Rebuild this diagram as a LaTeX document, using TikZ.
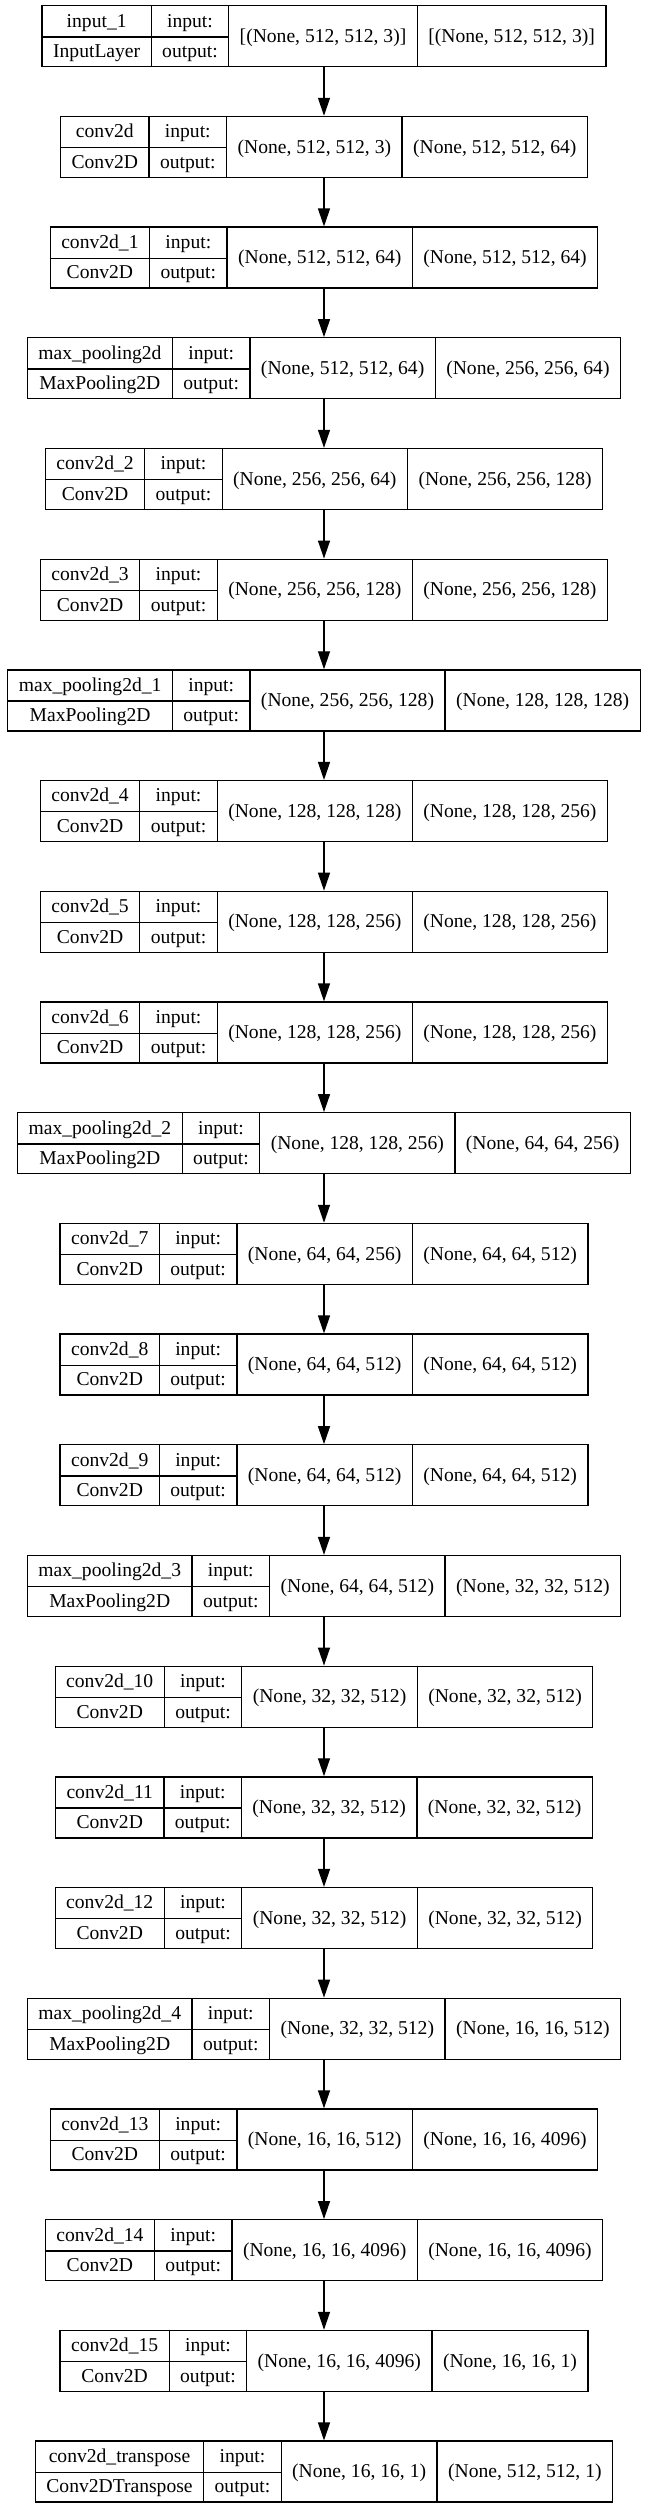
\documentclass[tikz,border=0pt]{standalone}
\usepackage{fontspec}
\setmainfont{Liberation Serif}
\usepackage{multirow}
\usetikzlibrary{arrows.meta}
\setlength{\tabcolsep}{11pt}
\setlength{\arrayrulewidth}{1.3pt}
\newcommand{\layer}[4]{\begin{tabular}{c|c|c|c}
#1 & input: & \multirow{2}{*}{#3} & \multirow{2}{*}{#4}\\ \cline{1-2}
#2 & output: & & \\
\end{tabular}}

\begin{document}
\begin{tikzpicture}[x=1pt,y=1pt,node distance=110.7pt]
\tikzstyle{box}=[rectangle, draw=black, line width=1.3pt, inner sep=0pt, fill=white, font=\fontsize{19.6}{30.5}\selectfont]
\tikzstyle{arrow}=[line width=1.3pt,-{Triangle[length=18pt,width=12pt]}]
\useasboundingbox (0,0) rectangle (645,-2508);
\node[box] (in1) at (324,-36.2) {\layer{input\_1}{InputLayer}{[(None, 512, 512, 3)]}{[(None, 512, 512, 3)]}};
\node[box, below of=in1] (cv0) {\layer{conv2d}{Conv2D}{(None, 512, 512, 3)}{(None, 512, 512, 64)}};
\node[box, below of=cv0] (cv1) {\layer{conv2d\_1}{Conv2D}{(None, 512, 512, 64)}{(None, 512, 512, 64)}};
\node[box, below of=cv1] (mp0) {\layer{max\_pooling2d}{MaxPooling2D}{(None, 512, 512, 64)}{(None, 256, 256, 64)}};
\node[box, below of=mp0] (cv2) {\layer{conv2d\_2}{Conv2D}{(None, 256, 256, 64)}{(None, 256, 256, 128)}};
\node[box, below of=cv2] (cv3) {\layer{conv2d\_3}{Conv2D}{(None, 256, 256, 128)}{(None, 256, 256, 128)}};
\node[box, below of=cv3] (mp1) {\layer{max\_pooling2d\_1}{MaxPooling2D}{(None, 256, 256, 128)}{(None, 128, 128, 128)}};
\node[box, below of=mp1] (cv4) {\layer{conv2d\_4}{Conv2D}{(None, 128, 128, 128)}{(None, 128, 128, 256)}};
\node[box, below of=cv4] (cv5) {\layer{conv2d\_5}{Conv2D}{(None, 128, 128, 256)}{(None, 128, 128, 256)}};
\node[box, below of=cv5] (cv6) {\layer{conv2d\_6}{Conv2D}{(None, 128, 128, 256)}{(None, 128, 128, 256)}};
\node[box, below of=cv6] (mp2) {\layer{max\_pooling2d\_2}{MaxPooling2D}{(None, 128, 128, 256)}{(None, 64, 64, 256)}};
\node[box, below of=mp2] (cv7) {\layer{conv2d\_7}{Conv2D}{(None, 64, 64, 256)}{(None, 64, 64, 512)}};
\node[box, below of=cv7] (cv8) {\layer{conv2d\_8}{Conv2D}{(None, 64, 64, 512)}{(None, 64, 64, 512)}};
\node[box, below of=cv8] (cv9) {\layer{conv2d\_9}{Conv2D}{(None, 64, 64, 512)}{(None, 64, 64, 512)}};
\node[box, below of=cv9] (mp3) {\layer{max\_pooling2d\_3}{MaxPooling2D}{(None, 64, 64, 512)}{(None, 32, 32, 512)}};
\node[box, below of=mp3] (cv10) {\layer{conv2d\_10}{Conv2D}{(None, 32, 32, 512)}{(None, 32, 32, 512)}};
\node[box, below of=cv10] (cv11) {\layer{conv2d\_11}{Conv2D}{(None, 32, 32, 512)}{(None, 32, 32, 512)}};
\node[box, below of=cv11] (cv12) {\layer{conv2d\_12}{Conv2D}{(None, 32, 32, 512)}{(None, 32, 32, 512)}};
\node[box, below of=cv12] (mp4) {\layer{max\_pooling2d\_4}{MaxPooling2D}{(None, 32, 32, 512)}{(None, 16, 16, 512)}};
\node[box, below of=mp4] (cv13) {\layer{conv2d\_13}{Conv2D}{(None, 16, 16, 512)}{(None, 16, 16, 4096)}};
\node[box, below of=cv13] (cv14) {\layer{conv2d\_14}{Conv2D}{(None, 16, 16, 4096)}{(None, 16, 16, 4096)}};
\node[box, below of=cv14] (cv15) {\layer{conv2d\_15}{Conv2D}{(None, 16, 16, 4096)}{(None, 16, 16, 1)}};
\node[box, below of=cv15] (tr) {\layer{conv2d\_transpose}{Conv2DTranspose}{(None, 16, 16, 1)}{(None, 512, 512, 1)}};
\draw[arrow] (in1) -- (cv0);
\draw[arrow] (cv0) -- (cv1);
\draw[arrow] (cv1) -- (mp0);
\draw[arrow] (mp0) -- (cv2);
\draw[arrow] (cv2) -- (cv3);
\draw[arrow] (cv3) -- (mp1);
\draw[arrow] (mp1) -- (cv4);
\draw[arrow] (cv4) -- (cv5);
\draw[arrow] (cv5) -- (cv6);
\draw[arrow] (cv6) -- (mp2);
\draw[arrow] (mp2) -- (cv7);
\draw[arrow] (cv7) -- (cv8);
\draw[arrow] (cv8) -- (cv9);
\draw[arrow] (cv9) -- (mp3);
\draw[arrow] (mp3) -- (cv10);
\draw[arrow] (cv10) -- (cv11);
\draw[arrow] (cv11) -- (cv12);
\draw[arrow] (cv12) -- (mp4);
\draw[arrow] (mp4) -- (cv13);
\draw[arrow] (cv13) -- (cv14);
\draw[arrow] (cv14) -- (cv15);
\draw[arrow] (cv15) -- (tr);
\end{tikzpicture}
\end{document}
